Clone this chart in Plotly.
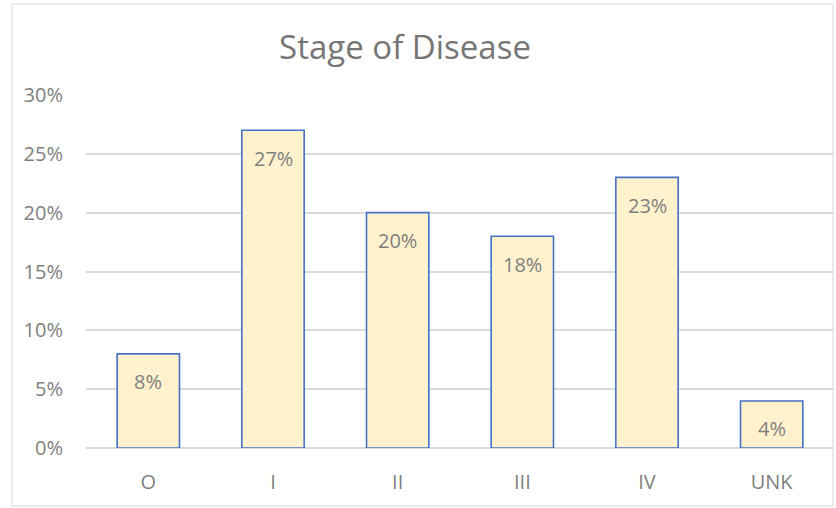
import plotly.graph_objects as go

categories = ["O", "I", "II", "III", "IV", "UNK"]
values = [0.08, 0.27, 0.20, 0.18, 0.23, 0.04]
tick_vals = [0, 0.05, 0.10, 0.15, 0.20, 0.25, 0.30]
tick_text = ["0%", "5%", "10%", "15%", "20%", "25%", "30%"]
title_text = "Stage of Disease"

FONT = "Open Sans"
GREY = "#7f7f7f"

fig = go.Figure()
fig.add_trace(go.Bar(
    x=categories, y=values,
    marker=dict(color="#FFF2CC", line=dict(color="#4472C4", width=1.6)),
    hoverinfo="skip",
))

for c, v in zip(categories, values):
    fig.add_annotation(x=c, y=v, text=f"{round(v*100)}%", showarrow=False,
                       yshift=-28, yanchor="middle",
                       font=dict(family=FONT, size=20, color=GREY))

L, R, T, B = 86, 834, 95, 448
W, H = 836, 508
pw, ph = R - L, B - T

fig.add_shape(type="rect", xref="paper", yref="paper",
              x0=(12 - L) / pw, x1=(833 - L) / pw,
              y0=(B - 506) / ph, y1=(B - 4) / ph,
              line=dict(color="#d9d9d9", width=1), layer="below")

fig.update_layout(
    width=W, height=H,
    margin=dict(l=L, r=W - R, t=T, b=H - B),
    paper_bgcolor="white", plot_bgcolor="white",
    bargap=0.5,
    showlegend=False,
    title=dict(text=title_text, x=405 / W, xanchor="center",
               xref="container", yref="container",
               y=1 - 47 / H, yanchor="middle",
               font=dict(family=FONT, size=33, color="#767676")),
    xaxis=dict(showgrid=False, showline=False, ticks="",
               ticklabelstandoff=20,
               tickfont=dict(family=FONT, size=20, color=GREY),
               fixedrange=True),
    yaxis=dict(range=[0, 0.30], tickvals=tick_vals, ticktext=tick_text,
               showgrid=True, gridcolor="#d9d9d9", gridwidth=1.5,
               zeroline=True, zerolinecolor="#d9d9d9", zerolinewidth=1.5,
               showline=False, ticks="", ticklabelstandoff=22,
               tickfont=dict(family=FONT, size=20, color=GREY),
               fixedrange=True),
)

fig.write_html("out.html", config={"displayModeBar": False},
               post_script="document.body.style.margin='0';")
